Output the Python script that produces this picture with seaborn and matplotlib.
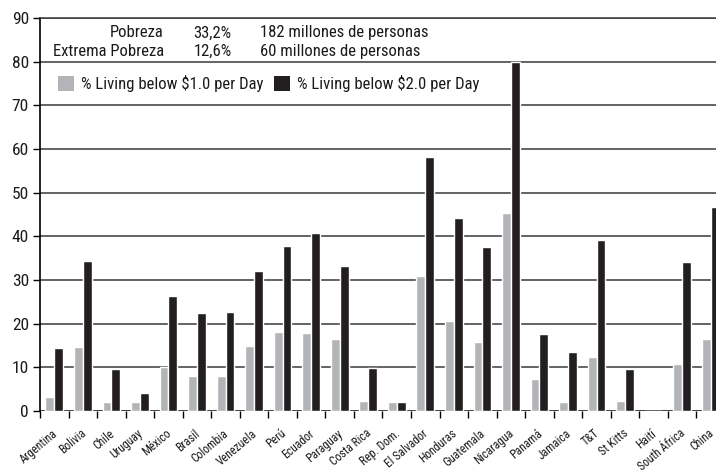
import matplotlib
matplotlib.use("Agg")
import matplotlib.pyplot as plt
import matplotlib.patches as mpatches
import seaborn as sns
import pandas as pd

countries = ["Argentina", "Bolivia", "Chile", "Uruguay", "México", "Brasil",
             "Colombia", "Venezuela", "Perú", "Ecuador", "Paraguay", "Costa Rica",
             "Rep. Dom.", "El Salvador", "Honduras", "Guatemala", "Nicaragua",
             "Panamá", "Jamaica", "T&T", "St Kitts", "Haití", "South África", "China"]
below_1 = [3.3, 14.6, 2.0, 2.0, 10.1, 8.1, 8.1, 15.0, 18.1, 17.9, 16.4, 2.2,
           2.0, 31.0, 20.7, 15.9, 45.4, 7.3, 2.0, 12.4, 2.2, 0.0, 10.8, 16.6]
below_2 = [14.4, 34.4, 9.7, 4.1, 26.4, 22.4, 22.6, 32.1, 37.8, 40.8, 33.3, 9.8,
           2.0, 58.1, 44.1, 37.5, 79.9, 17.6, 13.4, 39.1, 9.6, 0.0, 34.1, 46.7]
series_names = ["% Living below $1.0 per Day", "% Living below $2.0 per Day"]
summary_rows = [("Pobreza", "33,2%", "182 millones de personas"),
                ("Extrema Pobreza", "12,6%", "60 millones de personas")]

sns.set_style("white")
plt.rcParams["font.family"] = ["Roboto Condensed", "DejaVu Sans"]

df = pd.DataFrame({
    "country": countries * 2,
    "value": below_1 + below_2,
    "series": [series_names[0]] * len(countries) + [series_names[1]] * len(countries),
})

gray = "#b3b4b7"
black = "#231f20"
text_color = "#1a1a1a"

fig = plt.figure(figsize=(7.16, 4.73), dpi=100)
ax = fig.add_axes([40 / 716, 62 / 473, 685 / 716, 393 / 473])

sns.barplot(data=df, x="country", y="value", hue="series", order=countries,
            hue_order=series_names, palette=[gray, black], width=0.62,
            dodge=True, gap=0, saturation=1, errorbar=None, ax=ax, legend=False)

ax.set_ylim(0, 90)
ax.set_xlim(-0.5, len(countries) - 0.5)
ax.set_yticks(range(0, 91, 10))
ax.yaxis.grid(True, color="#3a3a3a", linewidth=1.1)
ax.set_axisbelow(True)
ax.set_xlabel("")
ax.set_ylabel("")

for side in ["right", "bottom"]:
    ax.spines[side].set_visible(False)
ax.spines["left"].set_color("black")
ax.spines["left"].set_linewidth(1.2)
ax.spines["top"].set_color("#3a3a3a")
ax.spines["top"].set_linewidth(1.1)

ax.tick_params(axis="y", direction="out", length=5, width=1, color="black",
               pad=3, labelsize=12.5, left=True, labelcolor=text_color)

# ticks sit on the boundaries between countries
ax.set_xticks([i - 0.5 for i in range(len(countries) + 1)])
ax.set_xticklabels([])
ax.tick_params(axis="x", direction="out", length=5, width=1, color="black", bottom=True)
ax.axhline(0, color="#3a3a3a", linewidth=1.1, zorder=0)
for i, name in enumerate(countries):
    ax.annotate(name, xy=(i, 0), xycoords="data", xytext=(1, -15),
                textcoords="offset points", rotation=40, ha="right", va="center",
                rotation_mode="anchor", fontsize=8.5, color=text_color)

for r, (label, pct, people) in enumerate(summary_rows):
    y = 86.6 - r * 4.2
    ax.text(0.181, y, label, transform=ax.get_yaxis_transform(), ha="right",
            va="center", fontsize=12, color=text_color)
    ax.text(0.280, y, pct, transform=ax.get_yaxis_transform(), ha="right",
            va="center", fontsize=12, color=text_color)
    ax.text(0.321, y, people, transform=ax.get_yaxis_transform(), ha="left",
            va="center", fontsize=12, color=text_color)

handles = [mpatches.Patch(facecolor=gray, edgecolor="none"),
           mpatches.Patch(facecolor=black, edgecolor="none")]
ax.legend(handles, series_names, loc="center left", bbox_to_anchor=(0.026, 0.833),
          ncol=2, frameon=False, fontsize=12, handlelength=1.0, handleheight=1.0,
          handletextpad=0.4, columnspacing=0.6, borderaxespad=0, borderpad=0,
          labelcolor=text_color)

fig.savefig("out.png", dpi=100)
